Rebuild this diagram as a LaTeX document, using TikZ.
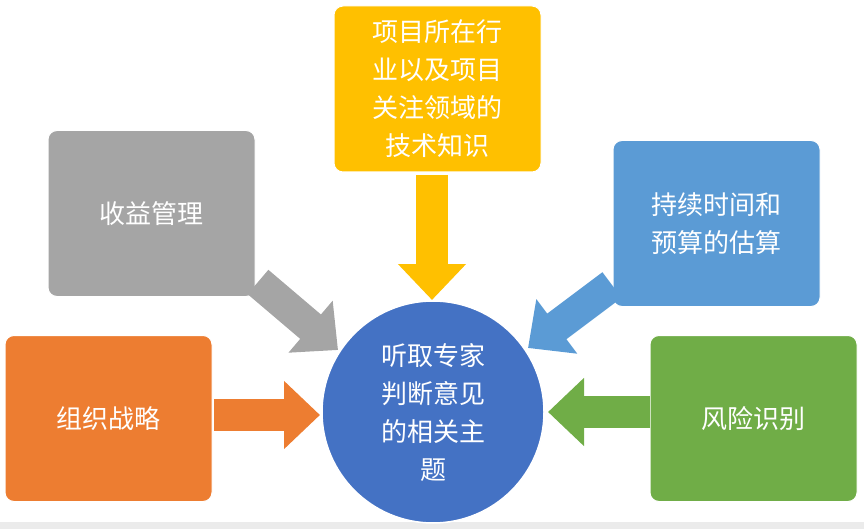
\documentclass[tikz,border=0pt]{standalone}
\usepackage{fontspec}
\setmainfont{Noto Sans CJK SC}
\usetikzlibrary{arrows.meta}
\definecolor{cy}{HTML}{FFC000}
\definecolor{cg}{HTML}{A5A5A5}
\definecolor{cb}{HTML}{5B9BD5}
\definecolor{co}{HTML}{ED7D31}
\definecolor{cgr}{HTML}{70AD47}
\definecolor{cc}{HTML}{4472C4}
\begin{document}
\begin{tikzpicture}[x=1pt,y=-1pt,
 box/.style={draw=white,line width=1pt,rounded corners=9pt,minimum width=207pt,minimum height=166pt,text=white,align=center,font=\fontsize{26}{38}\selectfont,inner sep=0pt},
 barrow/.style={line width=32pt,-{Triangle[length=36pt,width=66pt]}}]
\useasboundingbox (0,0) rectangle (864,529);
\fill[black!8] (0,522) rectangle (864,529);
\node[box,fill=cy] (top) at (437.5,89) {项目所在行\\业以及项目\\关注领域的\\技术知识};
\node[box,fill=cg] (gl) at (151.5,213.5) {收益管理};
\node[box,fill=cb] (br) at (716.5,223.5) {持续时间和\\预算的估算};
\node[box,fill=co] (ol) at (108.5,418.5) {组织战略};
\node[box,fill=cgr] (gr) at (753.5,418.5) {风险识别};
\node[circle,draw=white,line width=1.5pt,fill=cc,minimum size=222pt,text=white,align=center,font=\fontsize{26}{38}\selectfont] (c) at (433,412) {听取专家\\判断意见\\的相关主\\题};
\coordinate (a1s) at (432,175); \coordinate (a1e) at (432,300);
\coordinate (a2s) at (258,282); \coordinate (a2e) at (338,350);
\coordinate (a3s) at (612,285); \coordinate (a3e) at (528,348);
\coordinate (a4s) at (214,415); \coordinate (a4e) at (320,415);
\coordinate (a5s) at (650,412); \coordinate (a5e) at (548,412);
\draw[barrow,cy] (a1s) -- (a1e);
\draw[barrow,cg] (a2s) -- (a2e);
\draw[barrow,cb] (a3s) -- (a3e);
\draw[barrow,co] (a4s) -- (a4e);
\draw[barrow,cgr] (a5s) -- (a5e);
\end{tikzpicture}
\end{document}
